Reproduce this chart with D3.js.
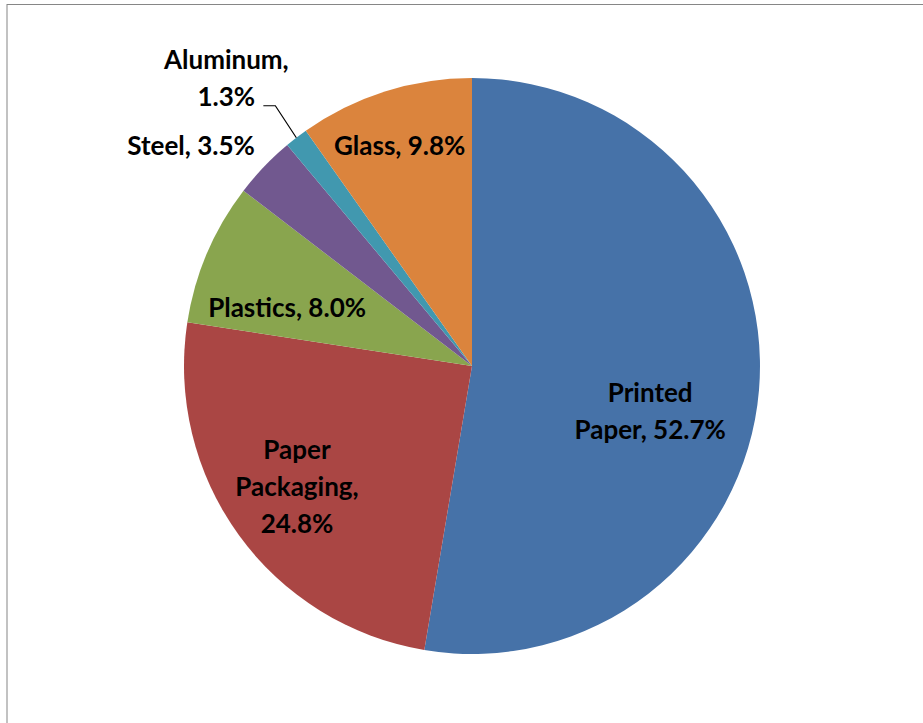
<!DOCTYPE html>
<html>
<head>
<meta charset="utf-8">
<script src="https://cdn.jsdelivr.net/npm/d3@7/dist/d3.min.js"></script>
<style>
  html, body { margin: 0; padding: 0; background: #ffffff; }
  svg { display: block; }
  .lbl { font-family: Lato, "Liberation Sans", sans-serif; font-weight: 700; fill: #000; }
</style>
</head>
<body>
<svg id="chart" width="923" height="723"></svg>
<script>
// Share of waste by material (percent)
const categories = ["Printed Paper", "Paper Packaging", "Plastics", "Steel", "Aluminum", "Glass"];
const values = [52.7, 24.8, 8.0, 3.5, 1.3, 9.8];
const colors = ["#4672A8", "#AA4644", "#89A54E", "#71588F", "#4198AF", "#DB843D"];
// Text lines of each data label
const labelLines = [
  ["Printed", "Paper, 52.7%"],
  ["Paper", "Packaging,", "24.8%"],
  ["Plastics, 8.0%"],
  ["Steel, 3.5%"],
  ["Aluminum,", "1.3%"],
  ["Glass, 9.8%"]
];

const W = 923, H = 723;
const cx = 472, cy = 366, R = 288;
const fontSize = 26, lineGap = 37;

const svg = d3.select("#chart");

// chart frame
svg.append("rect")
  .attr("x", 7).attr("y", 4.5)
  .attr("width", W + 10).attr("height", H + 10)
  .attr("fill", "#ffffff")
  .attr("stroke", "#868686").attr("stroke-width", 1);

const data = categories.map((c, i) => ({ name: c, value: values[i], color: colors[i], lines: labelLines[i] }));

const pie = d3.pie().value(d => d.value).sort(null).startAngle(0).endAngle(2 * Math.PI);
const arcs = pie(data);
const arc = d3.arc().innerRadius(0).outerRadius(R);
const labelArc = d3.arc().innerRadius(R * 0.6).outerRadius(R * 0.6);
const edgeArc = d3.arc().innerRadius(R).outerRadius(R);

const g = svg.append("g").attr("transform", `translate(${cx},${cy})`);

g.selectAll("path.slice")
  .data(arcs)
  .join("path")
  .attr("class", "slice")
  .attr("d", arc)
  .attr("fill", d => d.data.color);

// label placement: inside labels relative to the slice centroid,
// outside labels relative to the slice's outer edge
const placement = [
  { ref: "in", dx: 6, dy: 22 },
  { ref: "in", dx: -35, dy: -8 },
  { ref: "in", dx: -26, dy: 19 },
  { ref: "out", dx: -73, dy: -12 },
  { ref: "out", dx: -70, dy: -69, leader: true },
  { ref: "in", dx: -20, dy: -46 }
];

arcs.forEach((a, i) => {
  const p = placement[i];
  const base = p.ref === "in" ? labelArc.centroid(a) : edgeArc.centroid(a);
  const x = base[0] + p.dx, y = base[1] + p.dy;
  const t = g.append("text").attr("class", "lbl")
    .attr("text-anchor", "middle")
    .attr("font-size", fontSize);
  a.data.lines.forEach((line, j) => {
    t.append("tspan").attr("x", x).attr("y", y + j * lineGap).text(line);
  });
  if (p.leader) {
    const lastY = y + (a.data.lines.length - 1) * lineGap;
    const e = edgeArc.centroid(a);
    const pts = [[x + 37, lastY], [x + 49, lastY], e];
    g.append("path")
      .attr("d", d3.line()(pts))
      .attr("fill", "none")
      .attr("stroke", "#000")
      .attr("stroke-width", 1.2);
  }
});
</script>
</body>
</html>
